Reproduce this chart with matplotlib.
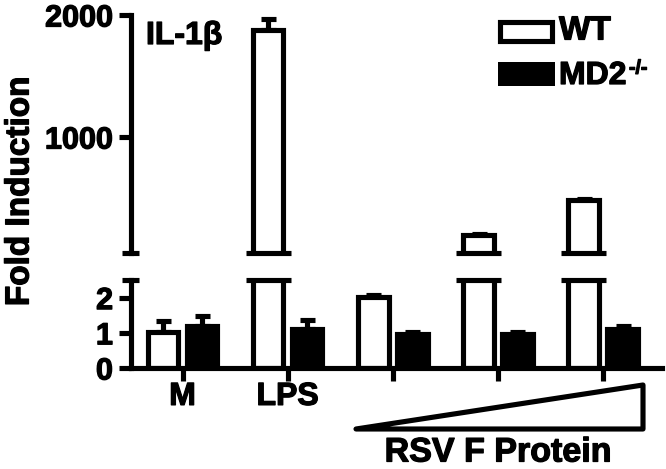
import numpy as np
import matplotlib
matplotlib.use("Agg")
import matplotlib.pyplot as plt
import matplotlib.patheffects as pe
from matplotlib.patches import Polygon, Rectangle

# DATA
groups = ["M", "LPS", "RSV F 1", "RSV F 2", "RSV F 3"]
tick_labels = ["M", "LPS", "", "", ""]
wt = [1.03, 1880, 2.03, 200, 485]
wt_err = [0.3, 85, 0.03, 6, 6]
md2 = [1.2, 1.1, 0.97, 0.97, 1.1]
md2_err = [0.27, 0.25, 0.06, 0.06, 0.1]

# STYLE
FONT = "Liberation Sans"
LW = 3.7
HEAVY = [pe.withStroke(linewidth=0.9, foreground="black")]
plt.rcParams["font.family"] = [FONT, "DejaVu Sans"]
plt.rcParams["font.weight"] = "bold"

W, H = 666, 469
fig = plt.figure(figsize=(W / 100, H / 100), dpi=100)

def fx(px):
    return px / W

def fy(py):
    return 1 - py / H

left, right = fx(131), fx(662)
ax_top = fig.add_axes([left, fy(253), right - left, fy(15) - fy(253)])
ax_bot = fig.add_axes([left, fy(368), right - left, fy(280) - fy(368)])

x = np.arange(len(groups))
width = 0.29
off = 0.185
xlim = (-0.49, 4.56)
top_lim = (50, 2000)
bot_lim = (0, 2.5)

for ax in (ax_top, ax_bot):
    ax.bar(x - off, wt, width, color="white", edgecolor="black", linewidth=LW, zorder=2)
    ax.bar(x + off, md2, width, color="black", edgecolor="black", linewidth=LW, zorder=2)
    ax.errorbar(x - off, wt, yerr=[np.zeros(len(wt)), wt_err], fmt="none",
                ecolor="black", elinewidth=LW, capsize=5.4, capthick=LW, zorder=1)
    ax.errorbar(x + off, md2, yerr=[np.zeros(len(md2)), md2_err], fmt="none",
                ecolor="black", elinewidth=LW, capsize=5.4, capthick=LW, zorder=1)
    ax.set_xlim(*xlim)
    for s in ("top", "right"):
        ax.spines[s].set_visible(False)
    ax.spines["left"].set_linewidth(LW)
    ax.spines["bottom"].set_linewidth(LW)
    ax.tick_params(axis="both", direction="out", length=9, width=LW,
                   labelsize=22, pad=4)

# top segment
ax_top.set_ylim(*top_lim)
ax_top.spines["bottom"].set_visible(False)
ax_top.set_xticks([])
ax_top.set_yticks([1000, 2000])

# bottom segment
ax_bot.set_ylim(*bot_lim)
ax_bot.set_yticks([0, 1, 2])
ax_bot.set_xticks(x)
ax_bot.set_xticklabels(tick_labels)
ax_bot.tick_params(axis="x", length=9, pad=1, labelsize=23)
for lab in (ax_top.get_yticklabels() + ax_bot.get_yticklabels()
            + ax_bot.get_xticklabels()):
    lab.set_fontweight("bold")
    lab.set_path_effects(HEAVY)

# BREAK MARKS
ext = 0.067
for ax, yb in ((ax_top, top_lim[0]), (ax_bot, bot_lim[1])):
    ax.plot([xlim[0] - 0.085, xlim[0] + 0.075], [yb, yb], color="black",
            lw=LW, clip_on=False, solid_capstyle="butt")
    for xi, v in zip(x, wt):
        if v > bot_lim[1]:
            ax.plot([xi - off - width / 2 - ext, xi - off + width / 2 + ext], [yb, yb],
                    color="black", lw=LW, clip_on=False, solid_capstyle="butt")

# LABELS
def label(px, py, s, size, **kw):
    t = fig.text(fx(px), fy(py), s, fontsize=size, fontweight="bold", **kw)
    t.set_path_effects(HEAVY)
    return t

label(20, 191, "Fold Induction", 24, rotation=90, ha="center", va="center")
label(146, 36, "IL-1β", 23, ha="left", va="center")

# LEGEND
fig.add_artist(Rectangle((fx(500), fy(41)), fx(552) - fx(500), fy(22) - fy(41),
                         transform=fig.transFigure, facecolor="white",
                         edgecolor="black", linewidth=LW))
fig.add_artist(Rectangle((fx(498), fy(86)), fx(555) - fx(498), fy(62) - fy(86),
                         transform=fig.transFigure, facecolor="black",
                         edgecolor="black", linewidth=0))
label(559, 31, "WT", 24, ha="left", va="center")
label(559, 76, "MD2", 23, ha="left", va="center")
label(629, 69, "-/-", 14, ha="left", va="center")

# RSV F DOSE TRIANGLE
fig.add_artist(Polygon([(fx(356), fy(429)), (fx(643), fy(385)), (fx(643), fy(429))],
                       closed=True, transform=fig.transFigure, facecolor="white",
                       edgecolor="black", linewidth=LW, joinstyle="round"))
label(498, 453, "RSV F Protein", 24.5, ha="center", va="center")

fig.savefig("out.png", dpi=100)
